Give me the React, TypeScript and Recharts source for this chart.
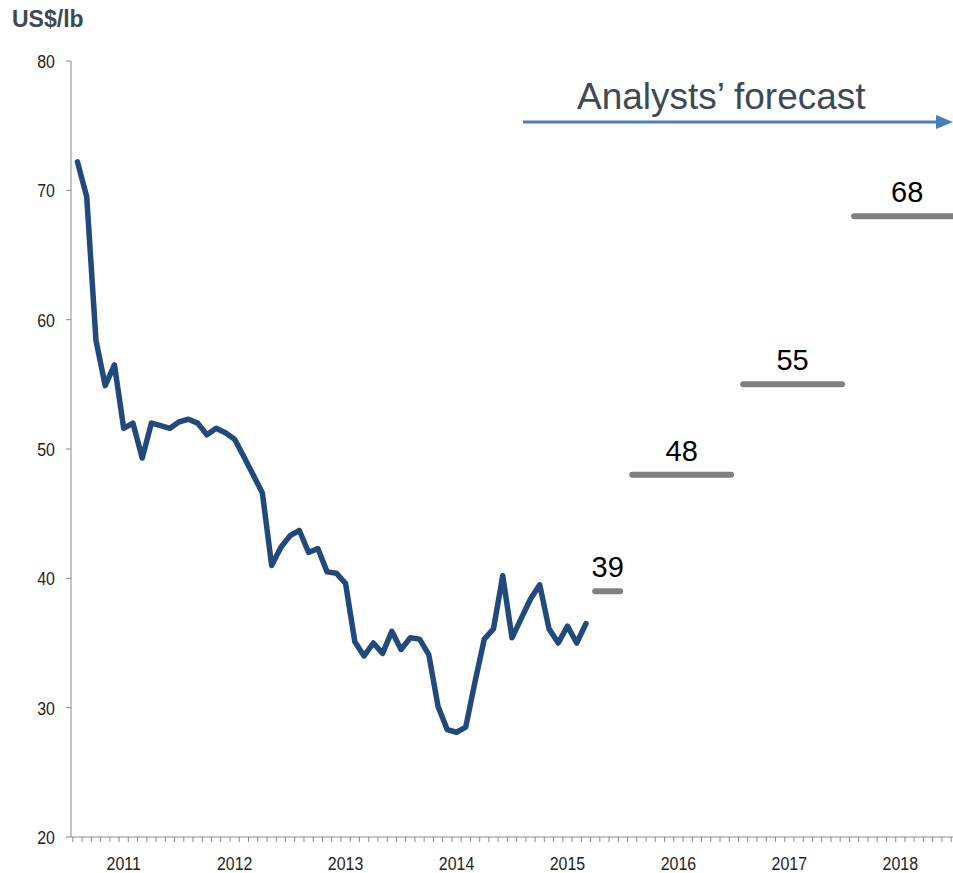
import { LineChart, Line, XAxis, YAxis, LabelList } from "recharts";

// monthly spot price, Jan 2011 onwards (month index 0 = Jan 2011)
const prices = [
  72.2, 69.5, 58.4, 54.9, 56.5, 51.6, 52.0, 49.3, 52.0, 51.8, 51.6, 52.1,
  52.3, 52.0, 51.1, 51.6, 51.25, 50.75, 49.4, 48.0, 46.6, 41.0, 42.4, 43.3,
  43.7, 42.0, 42.3, 40.5, 40.4, 39.6, 35.1, 34.0, 35.0, 34.2, 35.9, 34.5,
  35.4, 35.3, 34.1, 30.1, 28.3, 28.1, 28.5, 32.0, 35.3, 36.1, 40.2, 35.4,
  36.9, 38.4, 39.5, 36.1, 35.0, 36.3, 35.0, 36.5,
];

const years = ["2011", "2012", "2013", "2014", "2015", "2016", "2017", "2018"];
const yTicks = [20, 30, 40, 50, 60, 70, 80];

// analysts' forecast: value and the month span it covers
const forecastValues = [39, 48, 55, 68];
const forecastStart = [56, 60, 72, 84];
const forecastEnd = [58.7, 70.7, 82.7, 95.5];

const priceData = prices.map((price, m) => ({ m, price }));
const forecasts = forecastValues.map((v, i) => [
  { m: forecastStart[i], v },
  { m: (forecastStart[i] + forecastEnd[i]) / 2, v, label: String(v) },
  { m: forecastEnd[i], v },
]);

const monthTicks = Array.from({ length: 97 }, (_, k) => k - 0.5);
const yearTicks = years.map((_, i) => i * 12 + 5);

const sans = "'Liberation Sans', Arial, sans-serif";
const axisGrey = "#8a8a8a";

// Excel-style narrow tick labels (no narrow font installed, so squeeze a regular one)
function NarrowTick(props: any) {
  const { x, y, payload, anchor, dy, format } = props;
  return (
    <g transform={`translate(${x},${y})`}>
      <text
        transform="scale(0.84,1)"
        textAnchor={anchor}
        dy={dy}
        fontSize={19}
        fill="#222"
        fontFamily={sans}
      >
        {format ? format(payload.value) : payload.value}
      </text>
    </g>
  );
}

export default function App() {
  return (
    <div style={{ position: "absolute", left: 0, top: 0, width: 953, height: 873, background: "#fff" }}>
      <LineChart width={953} height={873} data={priceData} margin={{ top: 61, right: 0, bottom: 0, left: 0 }}>
        <XAxis
          xAxisId="m"
          dataKey="m"
          type="number"
          domain={[-0.7, 94.7]}
          allowDataOverflow
          ticks={monthTicks}
          interval={0}
          tick={() => <g />}
          tickSize={5}
          height={1}
          axisLine={{ stroke: axisGrey }}
          tickLine={{ stroke: axisGrey }}
        />
        <XAxis
          xAxisId="yr"
          dataKey="m"
          type="number"
          domain={[-0.7, 94.7]}
          allowDataOverflow
          ticks={yearTicks}
          interval={0}
          tick={(p: any) => (
            <NarrowTick {...p} anchor="middle" dy="0.71em" format={(v: number) => years[Math.round((v - 5) / 12)]} />
          )}
          tickSize={0}
          tickMargin={18}
          height={35}
          axisLine={false}
          tickLine={false}
        />
        <YAxis
          domain={[20, 80]}
          ticks={yTicks}
          interval={0}
          width={71}
          tickSize={5}
          tickMargin={11}
          tick={(p: any) => <NarrowTick {...p} anchor="end" dy="0.36em" />}
          axisLine={{ stroke: axisGrey }}
          tickLine={{ stroke: axisGrey }}
        />
        <Line
          xAxisId="m"
          dataKey="price"
          stroke="#21497c"
          strokeWidth={5.5}
          strokeLinejoin="round"
          strokeLinecap="round"
          dot={false}
          isAnimationActive={false}
        />
        {forecasts.map((d, i) => (
          <Line
            key={i}
            xAxisId="m"
            data={d}
            dataKey="v"
            stroke="#808080"
            strokeWidth={6}
            strokeLinecap="round"
            dot={false}
            isAnimationActive={false}
          >
            <LabelList dataKey="label" position="top" offset={14} style={{ fontSize: 29, fill: "#000", fontFamily: sans }} />
          </Line>
        ))}
      </LineChart>
      <svg width={953} height={873} style={{ position: "absolute", left: 0, top: 0, pointerEvents: "none" }}>
        <text x={12} y={27} fontSize={23} fontWeight="bold" fill="#3c4a56" fontFamily={sans}>
          US$/lb
        </text>
        <text x={577} y={109} fontSize={37} fill="#3c4a56" fontFamily={sans}>
          Analysts’ forecast
        </text>
        <line x1={523} y1={122} x2={940} y2={122} stroke="#4a7ebb" strokeWidth={3} />
        <polygon points="936,115 953,122 936,129" fill="#4a7ebb" />
      </svg>
    </div>
  );
}
